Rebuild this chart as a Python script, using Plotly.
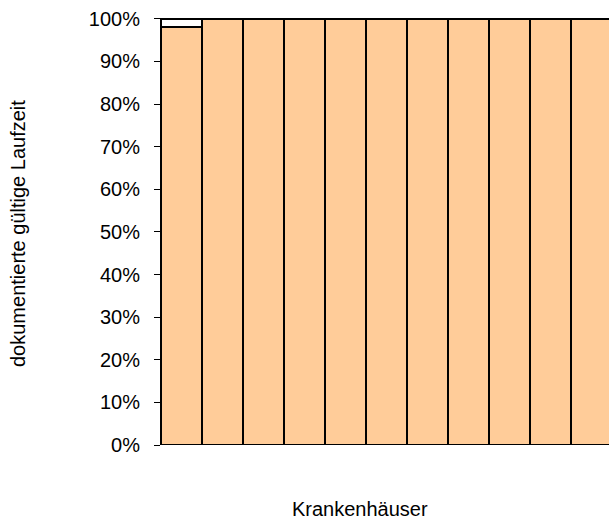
import plotly.graph_objects as go

hospitals = [f"KH {i}" for i in range(1, 13)]
valid_share = [0.98, 1.0, 1.0, 1.0, 1.0, 1.0, 1.0, 1.0, 1.0, 1.0, 1.0, 1.0]
missing_share = [0.02, None, None, None, None, None, None, None, None, None, None, None]
y_ticks = [0, 0.1, 0.2, 0.3, 0.4, 0.5, 0.6, 0.7, 0.8, 0.9, 1.0]

W, H = 609, 520
L, R, T, B = 161, 0, 18, 75
pw, ph = W - L - R, H - T - B

fig = go.Figure()
fig.add_trace(go.Bar(x=hospitals, y=valid_share, marker=dict(color="#FFCC99", line=dict(color="black", width=2.5)),
                     showlegend=False, hoverinfo="skip"))
fig.add_trace(go.Bar(x=hospitals, y=missing_share, marker=dict(color="white", line=dict(color="black", width=2.5)),
                     showlegend=False, hoverinfo="skip"))

font = dict(family="Liberation Sans, Arial, sans-serif", size=20, color="black")
fig.update_layout(
    width=W, height=H, margin=dict(l=L, r=R, t=T, b=B, pad=0),
    barmode="stack", bargap=0,
    plot_bgcolor="white", paper_bgcolor="white",
    font=font,
    xaxis=dict(range=[-0.5, -0.5 + pw / 41.0], showticklabels=False, ticks="", showgrid=False,
               showline=False, zeroline=False),
    yaxis=dict(range=[0, 1.002], tickvals=y_ticks, tickformat=".0%", ticks="outside", ticklen=6,
               tickcolor="black", tickwidth=1, showline=True, linecolor="black", linewidth=1,
               showgrid=False, zeroline=False, ticklabelstandoff=10, tickfont=font),
    annotations=[
        dict(text="dokumentierte gültige Laufzeit", textangle=-90, xref="paper", yref="paper",
             x=(18 - L) / pw, y=(T + ph - 234) / ph, xanchor="center", yanchor="middle",
             showarrow=False, font=font),
        dict(text="Krankenhäuser", xref="paper", yref="paper",
             x=(359.5 - L) / pw, y=(T + ph - 509) / ph, xanchor="center", yanchor="middle",
             showarrow=False, font=font),
    ],
)
fig.write_html("out.html", config={"displayModeBar": False},
               post_script="document.body.style.margin='0';document.body.style.overflow='hidden';")
